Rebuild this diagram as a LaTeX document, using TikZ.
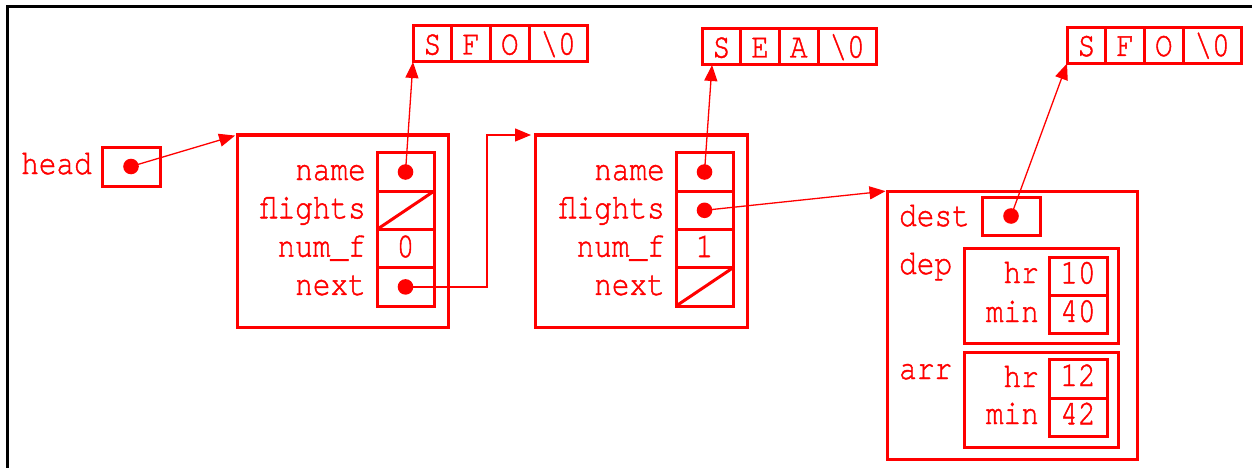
\documentclass[tikz,border=0pt]{standalone}
\usepackage{fontspec}
\newfontfamily\cour[FakeStretch=0.84,FakeBold=1.2]{texgyrecursor-regular.otf}
\usetikzlibrary{arrows.meta}
\definecolor{pr}{RGB}{255,0,0}
\begin{document}
\begin{tikzpicture}[x=1pt,y=-1pt,
  every node/.style={font=\cour\fontsize{35}{35}\selectfont, text=pr},
  box/.style={draw=pr, line width=3pt, inner sep=0pt, outer sep=0pt},
  cell/.style={box, minimum width=57pt, minimum height=38.3pt, text height=17pt, text depth=0pt},
  tcell/.style={box, minimum width=58pt, minimum height=38.3pt, text height=14pt, text depth=0pt},
  strc/.style={box, minimum width=38.7pt, minimum height=36pt, text height=21pt, text depth=0pt},
  lbl/.style={anchor=base east, inner sep=0pt},
  lblw/.style={anchor=base west, inner sep=0pt},
  conn/.style={draw=pr, line width=1.3pt, -{Triangle[length=16pt,width=13pt]}},
  diag/.style={draw=pr, line width=3pt}
]
\useasboundingbox (0,0) rectangle (1252,468);
\draw[line width=3pt, black, line join=miter] (7,468) -- (7,6.3) -- (1252,6.3);

% head
\node[lbl] (headl) at (92,174) {head};
\node[box, minimum width=58pt, minimum height=39pt] (hb) at (131,166.5) {};

% strings
\node[strc, anchor=west] (s1a) at (413,44) {S};
\node[strc, anchor=west] (s1b) at (s1a.east) {F};
\node[strc, anchor=west] (s1c) at (s1b.east) {O};
\node[strc, anchor=west, minimum width=58pt] (s1d) at (s1c.east) {\textbackslash0};

\node[strc, anchor=west] (s2a) at (702,47) {S};
\node[strc, anchor=west] (s2b) at (s2a.east) {E};
\node[strc, anchor=west] (s2c) at (s2b.east) {A};
\node[strc, anchor=west, minimum width=58pt] (s2d) at (s2c.east) {\textbackslash0};

\node[strc, anchor=west] (s3a) at (1067,45.5) {S};
\node[strc, anchor=west] (s3b) at (s3a.east) {F};
\node[strc, anchor=west] (s3c) at (s3b.east) {O};
\node[strc, anchor=west, minimum width=58pt] (s3d) at (s3c.east) {\textbackslash0};

% node 1
\node[box, minimum width=211pt, minimum height=192pt] (n1) at (342.5,231) {};
\node[cell] (n1name) at (405.5,172) {};
\node[cell, anchor=north] (n1fl) at (n1name.south) {};
\node[cell, anchor=north] (n1num) at (n1fl.south) {0};
\node[cell, anchor=north] (n1next) at (n1num.south) {};
\node[lbl] (n1l1) at (366,180) {name};
\node[lbl] (n1l2) at (366,218.3) {flights};
\node[lbl] (n1l3) at (366,256.6) {num\_f};
\node[lbl] (n1l4) at (366,294.9) {next};
\draw[diag] (n1fl.south west) -- (n1fl.north east);

% node 2
\node[box, minimum width=212pt, minimum height=192pt] (n2) at (641,231) {};
\node[cell] (n2name) at (704.5,172) {};
\node[cell, anchor=north] (n2fl) at (n2name.south) {};
\node[cell, anchor=north] (n2num) at (n2fl.south) {1};
\node[cell, anchor=north] (n2next) at (n2num.south) {};
\node[lbl] (n2l1) at (665,180) {name};
\node[lbl] (n2l2) at (665,218.3) {flights};
\node[lbl] (n2l3) at (665,256.6) {num\_f};
\node[lbl] (n2l4) at (665,294.9) {next};
\draw[diag] (n2next.south west) -- (n2next.north east);

% node 3
\node[box, minimum width=250pt, minimum height=268pt] (n3) at (1012,325) {};
\node[lblw] (destl) at (899,226) {dest};
\node[box, minimum width=58pt, minimum height=38pt] (dest) at (1011,216) {};
\node[lblw] (depl) at (899,274) {dep};
\node[box, minimum width=154pt, minimum height=95pt] (dep) at (1041,295.5) {};
\node[tcell] (dephr) at (1078,276.5) {10};
\node[tcell, anchor=north] (depmin) at (dephr.south) {40};
\node[lbl] (dephrl) at (1039,283) {hr};
\node[lbl] (depminl) at (1039,322) {min};
\node[lblw] (arrl) at (899,379) {arr};
\node[box, minimum width=154pt, minimum height=95pt] (arr) at (1041,399.5) {};
\node[tcell] (arrhr) at (1078,379) {12};
\node[tcell, anchor=north] (arrmin) at (arrhr.south) {42};
\node[lbl] (arrhrl) at (1039,387) {hr};
\node[lbl] (arrminl) at (1039,424) {min};

% connectors
\coordinate (bend) at (487,135);
\coordinate (s2tip) at ([xshift=10pt]s2a.south west);
\draw[conn, shorten >=2pt] (hb.center) -- (n1.north west);
\draw[conn] (n1name.center) -- (s1a.south west);
\draw[conn, shorten >=4pt] (n1next.center) -- (n1next.center -| bend) -- (bend) -- (n2.north west);
\draw[conn] (n2name.center) -- (s2tip);
\draw[conn, shorten >=1.5pt] (n2fl.center) -- (n3.north west);
\draw[conn] (dest.center) -- (s3a.south west);

\foreach \c in {hb, n1name, n1next, n2name, n2fl, dest}
  \fill[pr] (\c.center) circle[radius=7.8pt];
\end{tikzpicture}
\end{document}
